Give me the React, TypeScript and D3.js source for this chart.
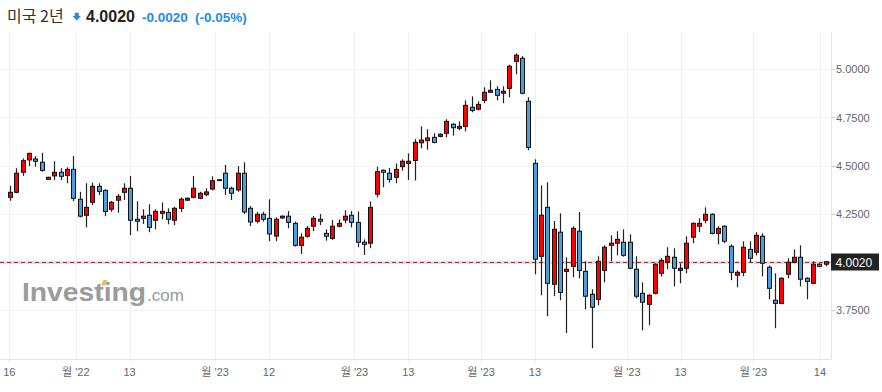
import React from 'react';
import * as d3 from 'd3';

const opens = [4.336,4.362,4.466,4.530,4.535,4.518,4.429,4.447,4.466,4.450,4.481,4.326,4.243,4.310,4.393,4.372,4.274,4.321,4.362,4.383,4.222,4.227,4.243,4.217,4.253,4.258,4.217,4.279,4.321,4.336,4.331,4.350,4.379,4.425,4.461,4.383,4.374,4.461,4.279,4.212,4.248,4.227,4.135,4.229,4.238,4.201,4.087,4.134,4.186,4.222,4.149,4.123,4.186,4.218,4.243,4.206,4.103,4.098,4.352,4.476,4.461,4.440,4.495,4.512,4.527,4.619,4.630,4.647,4.652,4.668,4.715,4.694,4.704,4.803,4.793,4.839,4.881,4.896,4.876,4.901,5.041,5.057,4.834,4.512,4.030,4.284,3.885,4.155,3.952,3.978,4.160,3.952,3.833,3.807,3.957,4.087,4.098,4.103,4.103,3.963,3.838,3.781,3.838,3.942,3.999,4.025,3.957,3.968,4.129,4.186,4.217,4.248,4.149,4.186,4.082,3.932,3.947,4.066,4.051,4.134,3.973,3.802,3.786,3.937,3.999,4.025,3.916,3.890,3.989,3.989];
const highs = [4.396,4.487,4.538,4.567,4.550,4.567,4.443,4.523,4.487,4.492,4.550,4.365,4.409,4.412,4.409,4.378,4.317,4.353,4.409,4.447,4.315,4.274,4.300,4.274,4.310,4.279,4.287,4.336,4.336,4.447,4.365,4.383,4.445,4.429,4.504,4.391,4.498,4.518,4.291,4.261,4.261,4.326,4.232,4.243,4.265,4.210,4.149,4.187,4.239,4.249,4.170,4.218,4.222,4.269,4.265,4.263,4.118,4.315,4.495,4.481,4.488,4.512,4.533,4.564,4.638,4.704,4.689,4.668,4.668,4.741,4.720,4.730,4.839,4.860,4.834,4.907,4.943,4.912,4.912,5.024,5.083,5.069,4.855,4.533,4.398,4.414,4.213,4.253,4.025,4.186,4.260,4.004,3.859,4.030,4.087,4.139,4.160,4.170,4.144,4.030,3.895,3.833,3.994,4.020,4.077,4.072,3.994,4.134,4.206,4.227,4.284,4.253,4.186,4.191,4.092,3.957,4.108,4.108,4.155,4.149,3.983,3.942,3.921,4.020,4.066,4.087,3.921,4.004,3.994,4.006];
const lows = [4.318,4.357,4.447,4.498,4.495,4.469,4.426,4.426,4.426,4.409,4.317,4.232,4.180,4.296,4.348,4.238,4.261,4.256,4.322,4.139,4.160,4.198,4.155,4.170,4.222,4.196,4.191,4.260,4.317,4.331,4.326,4.341,4.372,4.423,4.348,4.322,4.365,4.249,4.187,4.201,4.210,4.109,4.109,4.225,4.175,4.080,4.042,4.127,4.161,4.192,4.111,4.115,4.180,4.201,4.180,4.077,4.037,4.072,4.336,4.388,4.412,4.409,4.474,4.426,4.423,4.590,4.583,4.616,4.647,4.647,4.656,4.684,4.678,4.777,4.787,4.824,4.876,4.839,4.824,4.855,4.974,4.870,4.580,3.937,3.828,3.719,3.823,3.802,3.631,3.921,3.916,3.755,3.553,3.776,3.895,4.004,4.035,4.028,3.963,3.812,3.646,3.672,3.833,3.926,3.963,3.874,3.890,3.942,4.098,4.155,4.201,4.144,4.092,4.098,3.906,3.869,3.926,3.999,4.035,3.926,3.807,3.657,3.781,3.916,3.994,3.874,3.807,3.885,3.973,3.978];
const closes = [4.362,4.461,4.526,4.564,4.523,4.476,4.440,4.466,4.445,4.481,4.331,4.238,4.284,4.393,4.367,4.263,4.310,4.341,4.383,4.217,4.212,4.238,4.180,4.263,4.263,4.222,4.279,4.326,4.331,4.383,4.357,4.364,4.422,4.427,4.383,4.357,4.461,4.260,4.208,4.248,4.222,4.146,4.222,4.238,4.206,4.087,4.129,4.175,4.227,4.212,4.134,4.186,4.201,4.238,4.206,4.103,4.092,4.284,4.469,4.466,4.429,4.481,4.523,4.523,4.621,4.633,4.644,4.621,4.663,4.730,4.697,4.704,4.813,4.787,4.818,4.881,4.891,4.865,4.886,5.016,5.073,4.876,4.595,4.015,4.243,3.890,4.170,3.843,3.963,4.175,3.957,3.823,3.766,4.004,4.077,4.098,4.118,4.035,3.968,3.823,3.792,3.828,3.989,4.009,4.030,3.968,3.968,4.098,4.201,4.201,4.248,4.149,4.175,4.108,3.947,3.947,4.077,4.020,4.139,3.994,3.864,3.786,3.916,3.999,4.025,3.911,3.900,3.989,3.978,4.002];

const yTicks = [3.75, 4.0, 4.25, 4.5, 4.75, 5.0];
const xTickPos = [0, 10.5, 19, 32.5, 41, 54.5, 63, 74.5, 83, 97.5, 106, 117.5, 128];
const xTickLabels = ["16", "월 '22", "13", "월 '23", "12", "월 '23", "13", "월 '23", "13", "월 '23", "13", "월 '23", "14"];

const titleName = '미국 2년';
const titlePrice = '4.0020';
const titleChange = '-0.0020';
const titlePct = '(-0.05%)';

const W = 882, H = 392;
const plotLeft = 0, plotRight = 831.5, plotTop = 32, plotBottom = 359.5;
const RED = '#ff0000', BLUE = '#4c9ee0', TEXTBLUE = '#1e8ce6';
const FONT = '"Liberation Sans", Arial, "Noto Sans CJK KR", sans-serif';

export default function App() {
  const n = closes.length;
  const idx = d3.range(n);
  const xBand = d3.scaleBand<number>().domain(idx).range([6.13, 829.46]).padding(0.25);
  const xLin = d3.scaleLinear().domain([-0.5, n - 0.5]).range([6.13, 829.46]);
  const y = d3.scaleLinear().domain([3.75, 5.0]).range([310.3, 69.3]);
  const last = closes[n - 1];
  const yLast = Math.round(y(last)) + 0.5;

  return (
    <svg width={W} height={H} style={{ position: 'absolute', left: 0, top: 0, background: '#fff' }} fontFamily={FONT}>
      <rect x={0} y={0} width={W} height={H} fill="#fff" />
      {/* grid */}
      {yTicks.map((t) => (
        <line key={'gy' + t} x1={plotLeft} x2={plotRight} y1={Math.round(y(t)) + 0.5} y2={Math.round(y(t)) + 0.5} stroke="#f3f3f3" />
      ))}
      {xTickPos.map((p, i) => (
        <line key={'gx' + i} x1={Math.round(xLin(p)) + 0.5} x2={Math.round(xLin(p)) + 0.5} y1={plotTop} y2={plotBottom + 3} stroke="#f0f0f0" />
      ))}
      {/* watermark */}
      <g opacity={0.85}>
        <text x={22} y={301} fontSize={26} fontWeight="bold" fill="#8a8a8a" textLength={124} lengthAdjust="spacingAndGlyphs">Investing</text>
        <text x={147} y={301} fontSize={17} fill="#8a8a8a">.com</text>
        <path d="M101,285.5 L103.5,280 L107.5,280 L105,285.5 Z" fill="#f2a93b" />
      </g>
      {/* last price line */}
      <line x1={plotLeft} x2={plotRight} y1={yLast} y2={yLast} stroke="#fbd3d3" strokeWidth={3} />
      <line x1={plotLeft} x2={plotRight} y1={yLast} y2={yLast} stroke="#8a3a3a" strokeWidth={1} strokeDasharray="4,3" />
      {/* candles */}
      {idx.map((i) => {
        const o = opens[i], c = closes[i], h = highs[i], l = lows[i];
        const up = c >= o;
        const cx = Math.round((xBand(i) as number) + xBand.bandwidth() / 2);
        const top = y(Math.max(o, c));
        const bot = y(Math.min(o, c));
        const bh = Math.max(bot - top, 0.8);
        return (
          <g key={i}>
            <line x1={cx + 0.5} x2={cx + 0.5} y1={y(h)} y2={y(l)} stroke="#222" strokeWidth={1.2} />
            <rect x={cx - 1.5} y={top} width={4} height={bh} fill={up ? RED : BLUE} stroke="#111" strokeWidth={1} />
          </g>
        );
      })}
      {/* axes */}
      <line x1={0} x2={plotRight} y1={plotBottom} y2={plotBottom} stroke="#e3e3e3" />
      <line x1={plotRight} x2={plotRight} y1={plotTop} y2={plotBottom} stroke="#e3e3e3" />
      {yTicks.filter((t) => t !== 4.0).map((t) => (
        <g key={'yl' + t}>
          <line x1={plotRight} x2={plotRight + 4} y1={Math.round(y(t)) + 0.5} y2={Math.round(y(t)) + 0.5} stroke="#cfcfcf" />
          <text x={836} y={y(t) + 4} fontSize={11} fill="#666">{t.toFixed(4)}</text>
        </g>
      ))}
      {xTickPos.map((p, i) => (
        <text key={'xl' + i} x={xLin(p)} y={376} fontSize={11} fill="#666" textAnchor="middle">{xTickLabels[i]}</text>
      ))}
      {/* last price label */}
      <rect x={831} y={253.5} width={48} height={17} fill="#222" />
      <text x={835.5} y={266.5} fontSize={12} fill="#fff">{last.toFixed(4)}</text>
      {/* header */}
      <text x={7} y={21.5} fontSize={16} fill="#333" fontFamily='"Noto Sans CJK KR", "Liberation Sans", sans-serif'>{titleName}</text>
      <path d="M74.7,12.7 L78.7,12.7 L78.7,16 L80.9,16 L76.7,20.6 L72.5,16 L74.7,16 Z" fill={TEXTBLUE} />
      <text x={86} y={21.7} fontSize={16} fontWeight="bold" fill="#222">{titlePrice}</text>
      <text x={142} y={21.5} fontSize={13.5} fontWeight="bold" fill={TEXTBLUE}>{titleChange}</text>
      <text x={195} y={21.5} fontSize={13.5} fontWeight="bold" fill={TEXTBLUE}>{titlePct}</text>
    </svg>
  );
}
